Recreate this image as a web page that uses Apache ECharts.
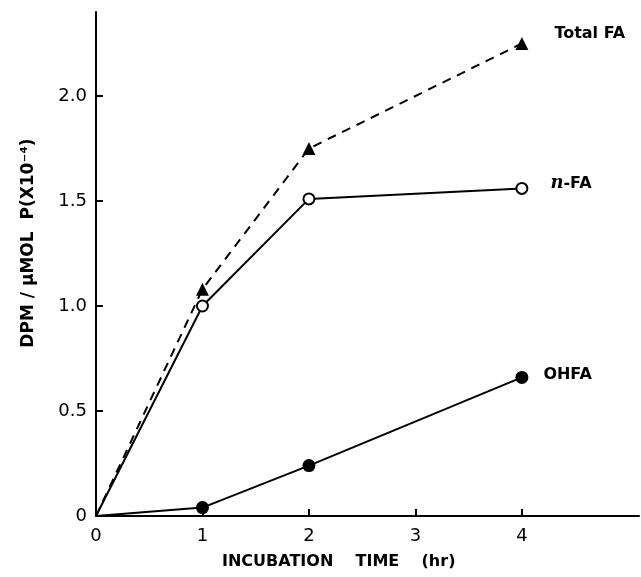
<!DOCTYPE html>
<html><head><meta charset="utf-8">
<script src="https://cdn.jsdelivr.net/npm/echarts@6/dist/echarts.min.js"></script>
<style>html,body{margin:0;padding:0;background:#fff}#c{width:641px;height:577px}</style>
</head><body><div id="c"></div>
<script>
var hours = [0, 1, 2, 4];
var totalFA = [0, 1.08, 1.75, 2.25];
var nFA = [0, 1.0, 1.51, 1.56];
var ohFA = [0, 0.04, 0.24, 0.66];
var xTicks = [0, 1, 2, 3, 4];
var yTicks = [0.5, 1.0, 1.5, 2.0];
var seriesNames = ['Total FA', 'n-FA', 'OHFA'];
var xTitle = 'INCUBATION    TIME    (hr)';
var yTitle = 'DPM / \u03bcMOL  P(X10\u207b\u2074)';

function pts(vals){
  return hours.map(function(h,i){
    var d = {value:[h, vals[i]]};
    if (i === 0) d.symbol = 'none';
    return d;
  });
}
var FONT = 'DejaVu Sans';
var chart = echarts.init(document.getElementById('c'));
function lastLabel(fmt, off){
  return {show:true, position:'right', distance:14, offset:off, formatter:fmt,
    color:'#000', fontFamily:FONT, fontSize:16, fontWeight:'bold',
    rich:{i:{fontStyle:'italic', fontFamily:'DejaVu Serif', fontSize:18, fontWeight:'bold'},
          t:{fontFamily:FONT, fontSize:16, fontWeight:'bold'}}};
}
function build(vals, name, opts){
  var d = pts(vals);
  var last = d[d.length-1];
  last.label = opts.label;
  return {
    type:'line', name:name, data:d, symbol:opts.symbol, symbolSize:opts.size,
    lineStyle:{color:'#000', width:2, type:opts.dash ? [9,7] : 'solid'},
    itemStyle:{color:opts.fill, borderColor:'#000', borderWidth:opts.bw},
    label:{show:false}, animation:false, z:opts.z||2
  };
}
chart.setOption({
  backgroundColor:'#fff',
  animation:false,
  grid:{left:96, top:12, width:543, height:504},
  xAxis:{type:'value', min:0, max:5.1, interval:1,
    axisLine:{show:true, lineStyle:{color:'#000', width:2}},
    axisTick:{show:true, inside:true, length:7, lineStyle:{color:'#000', width:2}, customValues:[1,2,3,4]},
    axisLabel:{color:'#000', fontFamily:FONT, fontSize:18, margin:11, customValues:xTicks},
    splitLine:{show:false}},
  yAxis:{type:'value', min:0, max:2.4, interval:0.5,
    axisLine:{show:true, lineStyle:{color:'#000', width:2}},
    axisTick:{show:true, inside:true, length:7, lineStyle:{color:'#000', width:2}, customValues:yTicks},
    axisLabel:{color:'#000', fontFamily:FONT, fontSize:18, margin:9, customValues:[0].concat(yTicks),
      formatter:function(v){return v===0?'0':v.toFixed(1);}},
    splitLine:{show:false}},
  graphic:[
    {type:'text', left:222, top:554, style:{text:xTitle, fill:'#000', font:'bold 16px "DejaVu Sans"'}},
    {type:'text', x:29, y:243, rotation:Math.PI/2, style:{text:yTitle, fill:'#000', font:'bold 17px "DejaVu Sans"', align:'center', verticalAlign:'middle'}}
  ],
  series:[
    build(totalFA, seriesNames[0], {symbol:'triangle', size:13, fill:'#000', bw:0, dash:true,
      label:lastLabel('{t|Total FA}', [12,-10])}),
    build(nFA, seriesNames[1], {symbol:'circle', size:11, fill:'#fff', bw:2,
      label:lastLabel('{i|n}{t|-FA}', [8,-5])}),
    build(ohFA, seriesNames[2], {symbol:'circle', size:13, fill:'#000', bw:0,
      label:lastLabel('{t|OHFA}', [1,-3])})
  ]
});
</script></body></html>
